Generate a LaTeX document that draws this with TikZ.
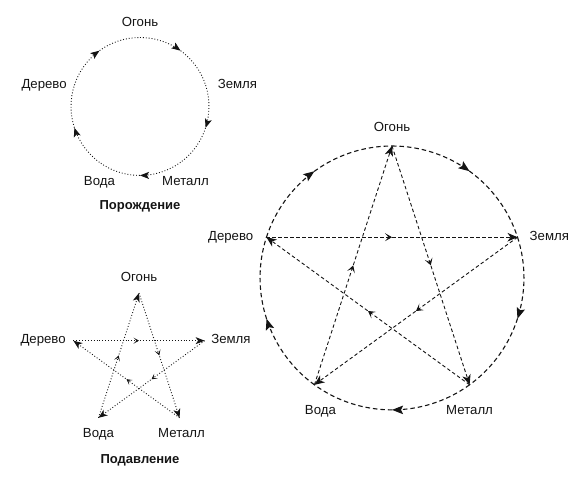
\documentclass[tikz,border=0pt]{standalone}
\usepackage{fontspec}
\setmainfont{Liberation Sans}
\usepackage{tikz}
\usetikzlibrary{arrows.meta, positioning, decorations.markings}
\definecolor{wxink}{RGB}{20, 20, 20}

\begin{document}
\begin{tikzpicture}[
  x=1pt, y=1pt,
  elem/.style={inner sep=0pt, text height=9pt, text depth=2.5pt,
               font=\fontsize{13.2}{15}\selectfont, text=wxink},
  caption/.style={elem, font=\fontsize{13}{15}\selectfont\bfseries},
  arcto/.style={bend left=36, looseness=0.94},
  gencyc/.style={draw=wxink, dotted, line width=0.9pt,
                 postaction={decorate, decoration={markings,
                   mark=at position 0.5 with {\arrow{Stealth[length=9pt, width=7pt, inset=2pt]}}}}},
  supline/.style={draw=wxink, dotted, line width=0.9pt,
                  -{Stealth[length=9pt, width=7pt, inset=2.5pt]},
                  postaction={decorate, decoration={markings,
                    mark=at position 0.5 with {\arrow{Stealth[length=5.5pt, width=6pt, inset=3pt]}}}}},
  biggen/.style={draw=wxink, dash pattern=on 4.5pt off 3pt, line width=1.1pt,
                 postaction={decorate, decoration={markings,
                   mark=at position 0.5 with {\arrow{Stealth[length=11pt, width=8.5pt, inset=2pt]}}}}},
  bigsup/.style={draw=wxink, dash pattern=on 3.5pt off 2.5pt, line width=0.9pt,
                 -{Stealth[length=10pt, width=8.5pt, inset=3pt]},
                 postaction={decorate, decoration={markings,
                   mark=at position 0.5 with {\arrow{Stealth[length=7pt, width=8pt, inset=3.5pt]}}}}},
]
  \useasboundingbox (0,0) rectangle (583,483);

  % Порождение (top left)
  \begin{scope}[shift={(140,376.5)}]
    \coordinate (gF) at (90:69);
    \coordinate (gE) at (18:69);
    \coordinate (gM) at (-54:69);
    \coordinate (gW) at (-126:69);
    \coordinate (gD) at (162:69);
  \end{scope}
  \node[elem, above=8pt of gF] (gFt) {Огонь};
  \node[elem, right=12pt of gE] (gEt) {Земля};
  \node[elem, below=14pt of gM, xshift=5pt] (gMt) {Металл};
  \node[elem, below=14pt of gW] (gWt) {Вода};
  \node[elem, left=7.5pt of gD] (gDt) {Дерево};
  \node[caption] (genttl) at (140,277) {Порождение};

  \draw[gencyc] (gF) to[arcto] (gE);
  \draw[gencyc] (gE) to[arcto] (gM);
  \draw[gencyc] (gM) to[arcto] (gW);
  \draw[gencyc] (gW) to[arcto] (gD);
  \draw[gencyc] (gD) to[arcto] (gF);

  % Подавление (bottom left)
  \begin{scope}[shift={(139,121)}]
    \coordinate (sF) at (90:69);
    \coordinate (sE) at (18:69);
    \coordinate (sM) at (-54:69);
    \coordinate (sW) at (-126:69);
    \coordinate (sD) at (162:69);
  \end{scope}
  \node[elem, above=9pt of sF] (sFt) {Огонь};
  \node[elem, right=6.5pt of sE] (sEt) {Земля};
  \node[elem, below=10.5pt of sM, xshift=2pt] (sMt) {Металл};
  \node[elem, below=10.5pt of sW] (sWt) {Вода};
  \node[elem, left=7.5pt of sD] (sDt) {Дерево};
  \node[caption] (supttl) at (140,23) {Подавление};

  \draw[supline] (sD) -- (sE);
  \draw[supline] (sE) -- (sW);
  \draw[supline] (sW) -- (sF);
  \draw[supline] (sF) -- (sM);
  \draw[supline] (sM) -- (sD);

  % both cycles (right)
  \begin{scope}[shift={(392,205)}]
    \coordinate (bF) at (90:132);
    \coordinate (bE) at (18:132);
    \coordinate (bM) at (-54:132);
    \coordinate (bW) at (-126:132);
    \coordinate (bD) at (162:132);
  \end{scope}
  \node[elem, above=12pt of bF] (bFt) {Огонь};
  \node[elem, right=12pt of bE] (bEt) {Земля};
  \node[elem, below=21pt of bM] (bMt) {Металл};
  \node[elem, below=21pt of bW, xshift=6pt] (bWt) {Вода};
  \node[elem, left=13pt of bD] (bDt) {Дерево};

  \draw[biggen] (bF) to[arcto] (bE);
  \draw[biggen] (bE) to[arcto] (bM);
  \draw[biggen] (bM) to[arcto] (bW);
  \draw[biggen] (bW) to[arcto] (bD);
  \draw[biggen] (bD) to[arcto] (bF);

  \draw[bigsup] (bD) -- (bE);
  \draw[bigsup] (bE) -- (bW);
  \draw[bigsup] (bW) -- (bF);
  \draw[bigsup] (bF) -- (bM);
  \draw[bigsup] (bM) -- (bD);
\end{tikzpicture}
\end{document}
